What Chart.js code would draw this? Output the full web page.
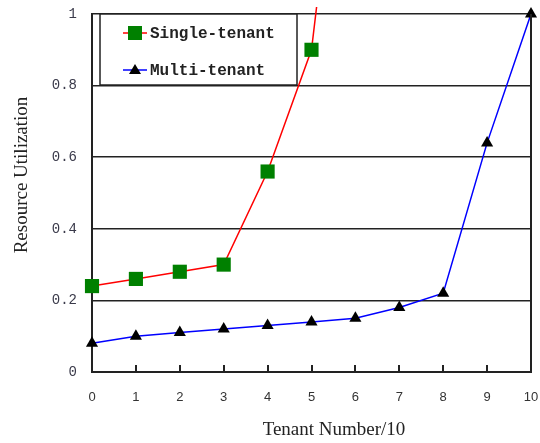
<!DOCTYPE html>
<html>
<head>
<meta charset="utf-8">
<script src="https://cdn.jsdelivr.net/npm/chart.js@4/dist/chart.umd.min.js"></script>
<style>
  body { margin: 0; background: #fff; }
  #chart { display: block; }
</style>
</head>
<body>
<canvas id="chart" width="540" height="443"></canvas>
<script>
var tenantNumbers = ["0", "1", "2", "3", "4", "5", "6", "7", "8", "9", "10"];
var singleTenant = [0.24, 0.26, 0.28, 0.30, 0.56, 0.90, 1.93];
var multiTenant = [0.08, 0.10, 0.11, 0.12, 0.13, 0.14, 0.15, 0.18, 0.22, 0.64, 1.0];
var yTicks = [0, 0.2, 0.4, 0.6, 0.8, 1];
var seriesNames = ["Single-tenant", "Multi-tenant"];
var xTitle = "Tenant Number/10";
var yTitle = "Resource Utilization";

var lineColor = "#222";

// frame, inner ticks, titles and the boxed legend
var decorations = {
    id: "decorations",
    afterDraw: function(chart) {
        var ctx = chart.ctx;
        var area = chart.chartArea;
        var xScale = chart.scales.x;
        ctx.save();

        ctx.strokeStyle = lineColor;
        ctx.lineWidth = 2;
        ctx.beginPath();
        ctx.moveTo(area.right, area.top);
        ctx.lineTo(area.right, area.bottom);
        ctx.stroke();

        // small ticks pointing up into the plot
        ctx.lineWidth = 2;
        for (var i = 1; i < tenantNumbers.length - 1; i++) {
            var px = Math.round(xScale.getPixelForValue(i));
            ctx.beginPath();
            ctx.moveTo(px, area.bottom);
            ctx.lineTo(px, area.bottom - 7);
            ctx.stroke();
        }

        ctx.fillStyle = "#222";
        ctx.font = "19px 'Liberation Serif'";
        ctx.textAlign = "center";
        ctx.textBaseline = "middle";
        ctx.fillText(xTitle, 334, 430);

        ctx.save();
        ctx.translate(22, 175);
        ctx.rotate(-Math.PI / 2);
        ctx.fillText(yTitle, 0, 0);
        ctx.restore();

        // legend box
        var top = area.top;
        ctx.fillStyle = "#fff";
        ctx.fillRect(100, top, 197, 71);
        ctx.strokeStyle = lineColor;
        ctx.lineWidth = 1.5;
        ctx.strokeRect(100, top, 197, 71);

        var rows = [top + 19, top + 56];
        var sets = chart.data.datasets;
        for (var r = 0; r < rows.length; r++) {
            var ly = rows[r];
            ctx.strokeStyle = sets[r].borderColor;
            ctx.lineWidth = 1.5;
            ctx.beginPath();
            ctx.moveTo(123, ly);
            ctx.lineTo(147, ly);
            ctx.stroke();
            ctx.fillStyle = sets[r].pointBackgroundColor;
            if (r == 0) {
                ctx.fillRect(128, ly - 7, 14, 14);
            } else {
                ctx.beginPath();
                ctx.moveTo(135, ly - 6);
                ctx.lineTo(141, ly + 4);
                ctx.lineTo(129, ly + 4);
                ctx.closePath();
                ctx.fill();
            }
            ctx.fillStyle = "#222";
            ctx.font = "bold 16px 'Liberation Mono'";
            ctx.textAlign = "left";
            ctx.textBaseline = "middle";
            ctx.fillText(seriesNames[r], 150, ly + 1);
        }
        ctx.restore();
    }
};

var ctx = document.getElementById("chart").getContext("2d");
var myChart = new Chart(ctx, {
    type: "line",
    data: {
        labels: tenantNumbers,
        datasets: [{
            label: seriesNames[0],
            data: singleTenant,
            borderColor: "#ff0000",
            borderWidth: 1.5,
            pointStyle: "rect",
            pointRadius: 10,
            pointBackgroundColor: "#008000",
            pointBorderColor: "#008000",
            pointBorderWidth: 0,
            clip: { left: false, top: 7, right: false, bottom: false }
        }, {
            label: seriesNames[1],
            data: multiTenant,
            borderColor: "#0000ff",
            borderWidth: 1.5,
            pointStyle: "triangle",
            pointRadius: 7,
            pointBackgroundColor: "#000",
            pointBorderColor: "#000",
            pointBorderWidth: 0,
            clip: false
        }]
    },
    options: {
        responsive: false,
        animation: false,
        devicePixelRatio: 1,
        layout: { autoPadding: false, padding: { top: 14, right: 9, left: 0, bottom: 0 } },
        plugins: {
            legend: { display: false },
            tooltip: { enabled: false }
        },
        scales: {
            x: {
                afterFit: function(scale) {
                    scale.height = 71;
                    scale.paddingLeft = 0;
                    scale.paddingRight = 0;
                },
                grid: { display: false, drawTicks: false },
                border: { display: true, color: lineColor, width: 2 },
                ticks: {
                    color: "#333",
                    padding: 18,
                    maxRotation: 0,
                    font: { family: "'Liberation Sans'", size: 13 }
                }
            },
            y: {
                min: 0,
                max: 1,
                afterFit: function(scale) {
                    scale.width = 92;
                    scale.paddingTop = 0;
                    scale.paddingBottom = 0;
                },
                afterBuildTicks: function(scale) {
                    scale.ticks = yTicks.map(function(v) { return { value: v }; });
                },
                grid: { color: lineColor, lineWidth: 1.5, drawTicks: false },
                border: { display: true, color: lineColor, width: 2 },
                ticks: {
                    color: "#3a3a4a",
                    padding: 15,
                    font: { family: "'Liberation Mono'", size: 14 },
                    callback: function(v) {
                        return (v == 0 || v == 1) ? String(v) : v.toFixed(1);
                    }
                }
            }
        }
    },
    plugins: [decorations]
});
</script>
</body>
</html>
